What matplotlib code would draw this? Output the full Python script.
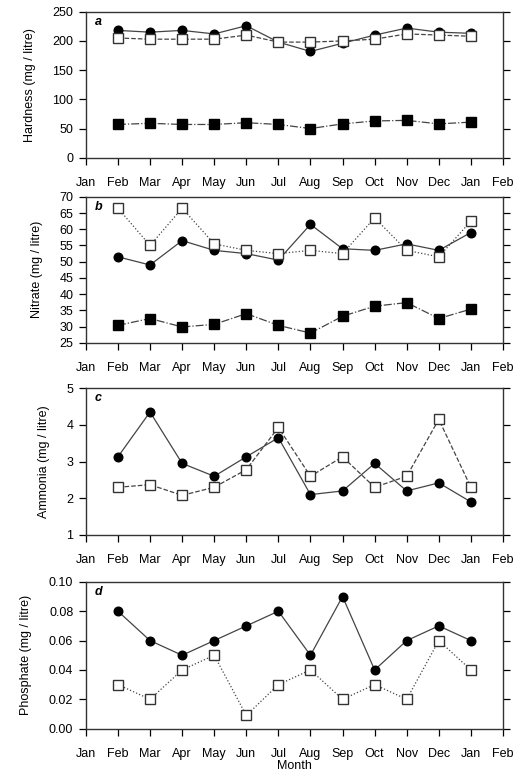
import matplotlib
matplotlib.use("Agg")
import matplotlib.pyplot as plt

plt.rcParams["font.family"] = ["Liberation Sans", "DejaVu Sans"]

MONTH_LABELS = ["Jan", "Feb", "Mar", "Apr", "May", "Jun", "Jul", "Aug",
                "Sep", "Oct", "Nov", "Dec", "Jan", "Feb"]
sample_pos = list(range(1, 13))  # Feb .. Jan

# (a) hardness
hard_circle = [218, 215, 218, 212, 226, 198, 182, 196, 210, 222, 215, 213]
hard_open = [205, 203, 203, 203, 210, 198, 198, 200, 203, 212, 210, 208]
hard_filled = [57, 59, 57, 57, 60, 57, 50, 58, 63, 64, 58, 61]

# (b) nitrate
nit_circle = [51.5, 49, 56.5, 53.5, 52.5, 50.5, 61.5, 54, 53.5, 55.5, 53.5, 59]
nit_open = [66.5, 55, 66.5, 55.5, 53.5, 52.5, 53.5, 52.5, 63.5, 53.5, 51.5, 62.5]
nit_filled = [30.4, 32.5, 29.9, 30.7, 34, 30.4, 28, 33.2, 36.3, 37.4, 32.5, 35.4]

# (c) ammonia
amm_circle = [3.13, 4.35, 2.95, 2.6, 3.13, 3.65, 2.1, 2.2, 2.95, 2.2, 2.42, 1.9]
amm_open = [2.3, 2.37, 2.08, 2.3, 2.78, 3.93, 2.6, 3.13, 2.3, 2.6, 4.15, 2.3]

# (d) phosphate
pho_circle = [0.08, 0.06, 0.05, 0.06, 0.07, 0.08, 0.05, 0.09, 0.04, 0.06, 0.07, 0.06]
pho_open = [0.03, 0.02, 0.04, 0.05, 0.009, 0.03, 0.04, 0.02, 0.03, 0.02, 0.06, 0.04]

LC = "#444444"


def circ(ax, y):
    ax.plot(sample_pos, y, "-", color=LC, lw=0.9, marker="o", ms=6.2,
            mfc="black", mec="black", zorder=3)


def opensq(ax, y, ls="--"):
    ax.plot(sample_pos, y, ls, color=LC, lw=0.9, marker="s", ms=7.2,
            mfc="white", mec="#333333", mew=1.0, zorder=4)


def filledsq(ax, y):
    ax.plot(sample_pos, y, "-.", color=LC, lw=0.9, marker="s", ms=7.2,
            mfc="black", mec="black", zorder=3)


def style(ax, ylim, yticks, yticklabels, ylabel, letter):
    ax.set_xlim(0, 13)
    ax.set_xticks(range(14))
    ax.set_xticklabels(MONTH_LABELS, fontsize=9)
    ax.set_ylim(*ylim)
    ax.set_yticks(yticks)
    ax.set_yticklabels(yticklabels, fontsize=9)
    ax.tick_params(axis="both", direction="out", length=5, width=0.9,
                   right=True)
    ax.tick_params(axis="x", pad=9)
    ax.tick_params(axis="y", pad=4)
    for s in ax.spines.values():
        s.set_linewidth(1.0)
        s.set_color("#333333")
    ax.set_ylabel(ylabel, fontsize=9, labelpad=12)
    ax.text(0.03, 0.93, letter, transform=ax.transAxes, fontsize=9,
            fontstyle="italic", fontweight="bold", va="center", ha="center")


fig = plt.figure(figsize=(5.3, 7.81), dpi=100)
L, W = 0.162, 0.787
ax_a = fig.add_axes([L, 0.798, W, 0.187])
ax_b = fig.add_axes([L, 0.561, W, 0.187])
ax_c = fig.add_axes([L, 0.315, W, 0.188])
ax_d = fig.add_axes([L, 0.067, W, 0.188])

circ(ax_a, hard_circle)
opensq(ax_a, hard_open)
filledsq(ax_a, hard_filled)
style(ax_a, (0, 250), range(0, 251, 50), [str(v) for v in range(0, 251, 50)],
      "Hardness (mg / litre)", "a")

circ(ax_b, nit_circle)
opensq(ax_b, nit_open, ls=":")
filledsq(ax_b, nit_filled)
style(ax_b, (25, 70), range(25, 71, 5), [str(v) for v in range(25, 71, 5)],
      "Nitrate (mg / litre)", "b")

circ(ax_c, amm_circle)
opensq(ax_c, amm_open)
style(ax_c, (1, 5), range(1, 6), [str(v) for v in range(1, 6)],
      "Ammonia (mg / litre)", "c")

circ(ax_d, pho_circle)
opensq(ax_d, pho_open, ls=":")
pt = [0.0, 0.02, 0.04, 0.06, 0.08, 0.10]
style(ax_d, (0, 0.10), pt, [f"{v:.2f}" for v in pt],
      "Phosphate (mg / litre)", "d")
ax_d.set_xlabel("Month", fontsize=9, labelpad=0)

fig.savefig("out.png", dpi=100)
